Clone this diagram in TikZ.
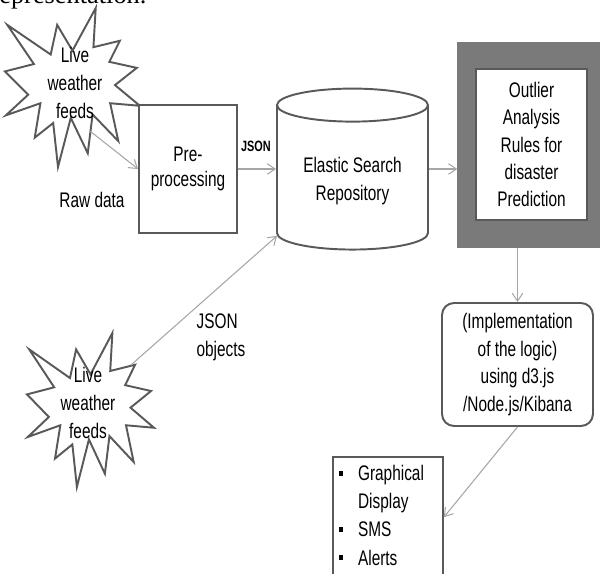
\documentclass[tikz,border=0pt]{standalone}
\usepackage{fontspec}
\setmainfont{Liberation Sans}[FakeStretch=0.73]
\newfontfamily\serifcap{Liberation Serif}
\usetikzlibrary{shapes.geometric,arrows.meta}

\definecolor{linegray}{HTML}{595959}
\definecolor{flowgray}{HTML}{A6A6A6}
\definecolor{framegray}{HTML}{7A7A7A}

\tikzset{
  box/.style={draw=linegray, line width=1.1pt, fill=white, align=center},
  flow/.style={draw=flowgray, line width=0.6pt, -{Straight Barb[length=4.5pt,width=6pt]}},
  burstline/.style={draw=linegray, line width=1.1pt, line join=miter},
  feedtext/.style={align=center, inner sep=0pt}
}

% explosion outline in a 100 x 100 box, placed at its top left corner
\newcommand{\burst}[3]{%
  \draw[burstline, shift={#1}, x=#2, y=-#3]
    (50,26.85) -- (67.23,0) -- (65.53,24.65) -- (85.09,20.63) -- (77.32,33.87)
    -- (97.67,37.67) -- (81.51,48.50) -- (100,61.53) -- (77.95,59.92)
    -- (84.00,83.77) -- (64.91,66.93) -- (61.33,91.38) -- (48.76,69.14)
    -- (39.28,100) -- (35.72,72.35) -- (22.05,81.56) -- (26.24,59.92)
    -- (0.63,67.53) -- (17.23,54.51) -- (0,39.88) -- (21.42,35.26)
    -- (1.71,10.63) -- (33.85,29.26) -- (38.67,10.63) -- cycle;}

\begin{document}
\begin{tikzpicture}[x=0.02cm, y=-0.02cm, font=\fontsize{12}{16}\selectfont]
    \useasboundingbox (0,0) rectangle (600,574);

    % Caption line cut at the top
    \node[anchor=base west, inner sep=0pt, font=\serifcap\fontsize{15}{18}\selectfont] (cap) at (-1,4) {epresentation.};

    % Upper feed
    \burst{(5,8)}{0.027cm}{0.0318cm}
    \node[feedtext] (feed1) at (75,83) {Live\\weather\\feeds};

    % Lower feed
    \burst{(27,333)}{0.0254cm}{0.0308cm}
    \node[feedtext] (feed2) at (88,403) {Live\\weather\\feeds};

    % Pre-processing
    \node[box, minimum width=1.96cm, minimum height=2.56cm, font=\fontsize{12}{14}\selectfont] (pre) at (188,169) {Pre-\\processing};

    % Repository
    \node[box, cylinder, shape border rotate=90, aspect=0.3, minimum width=3.02cm, minimum height=3.22cm] (repo) at (352.5,181) {Elastic Search\\Repository};

    % Outlier rules
    \node[draw=linegray!80, line width=0.8pt, fill=framegray, minimum width=2.84cm, minimum height=4.08cm] (outlier) at (529,145) {};
    \node[box, line width=0.8pt, minimum width=2.22cm, minimum height=3.02cm, font=\fontsize{12}{15.6}\selectfont] (rules) at (531.5,144.5) {Outlier\\Analysis\\Rules for\\disaster\\Prediction};

    % Implementation
    \node[box, rounded corners=0.24cm, minimum width=3.02cm, minimum height=2.46cm, font=\fontsize{12}{15.6}\selectfont] (impl) at (517.5,364.5) {(Implementation\\of the logic)\\using d3.js\\/Node.js/Kibana};

    % Outputs
    \node[box, anchor=north west, text width=1.96cm, align=left, inner xsep=3.4pt, inner ysep=2.3pt] (list) at (332,456)
      {\begin{tabular}{@{}l@{\hspace{8.5pt}}l@{}}
        \rule[2.6pt]{2.4pt}{3pt} & Graphical\\
                                 & Display\\
        \rule[2.6pt]{2.4pt}{3pt} & SMS\\
        \rule[2.6pt]{2.4pt}{3pt} & Alerts
       \end{tabular}};

    % Labels
    \node (raw) at (92,200) {Raw data};
    \node[font=\bfseries\fontsize{8.5}{10}\selectfont] (json) at (256,146) {JSON};
    \node[align=left] (jsonobj) at (221,337) {JSON\\objects};

    % Connections
    \draw[flow, shorten <=0.39cm] (feed1.south) -- (pre.west);
    \draw[flow] (pre.east) -- (pre.east -| repo.west);
    \draw[flow, shorten <=0.4cm] (feed2) -- (repo.216);
    \draw[flow] (pre.east -| repo.east) -- (pre.east -| outlier.west);
    \draw[flow] (impl.north |- outlier.south) -- (impl.north);
    \draw[flow] (impl.south) -- (list.east);

\end{tikzpicture}
\end{document}
